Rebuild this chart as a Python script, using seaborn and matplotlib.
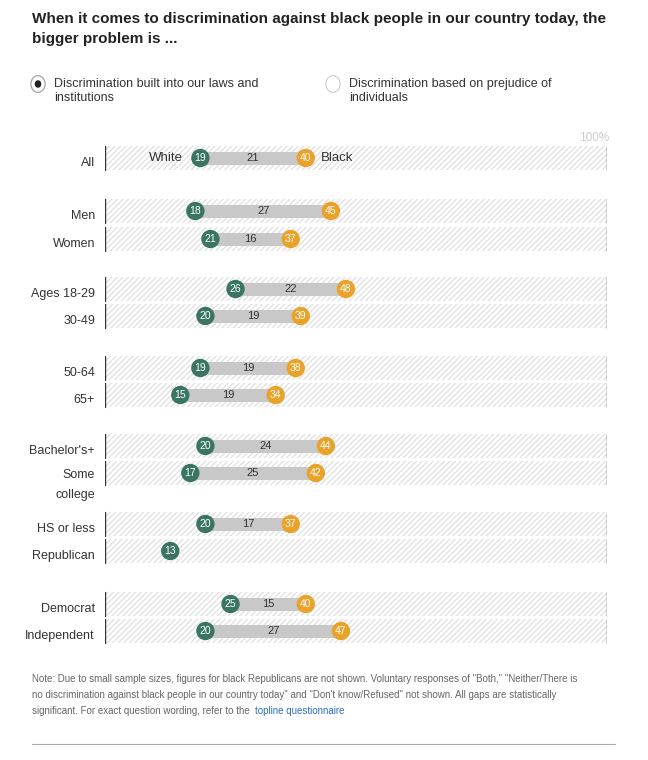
import matplotlib.pyplot as plt
import seaborn as sns
import pandas as pd

groups = ['All', 'Men', 'Women', 'Ages 18-29', '30-49', '50-64', '65+',
          "Bachelor's+", 'Some\ncollege', 'HS or less', 'Republican', 'Democrat', 'Independent']
row_y = [158, 211, 239, 289, 316, 368, 395, 446, 473, 524, 551, 604, 631]
white = [19, 18, 21, 26, 20, 19, 15, 20, 17, 20, 13, 25, 20]
black = [40, 45, 37, 48, 39, 38, 34, 44, 42, 37, None, 40, 47]

GREEN = '#3a7564'
ORANGE = '#e9a22a'

sns.set_style('white')
plt.rcParams['font.family'] = ['Liberation Sans', 'DejaVu Sans']
plt.rcParams['hatch.color'] = '#dcdcdc'
plt.rcParams['hatch.linewidth'] = 0.8

fig = plt.figure(figsize=(6.48, 7.6), dpi=100)
# axes spans pixel x 105..607, y 130..650
ax = fig.add_axes([105/648, 1-650/760, 502/648, 520/760])
ax.set_xlim(0, 100)
ax.set_ylim(650, 130)
ax.axis('off')

for g, y, w, b in zip(groups, row_y, white, black):
    ax.barh(y, 100, height=24, left=0, color='white', hatch='//////', edgecolor='#dcdcdc', linewidth=0)
    ax.plot([0, 0], [y-12, y+12], color='#333333', lw=1)
    ax.plot([100, 100], [y-12, y+12], color='#333333', lw=1)
    if '\n' in g:
        ax.text(-2, y-4, g, ha='right', va='top', fontsize=9, color='#333333', linespacing=1.9)
    else:
        ax.text(-2, y+5, g, ha='right', va='center', fontsize=9, color='#333333')
    if b is not None:
        ax.barh(y, b-w, height=13, left=w, color='#c8c8c8', linewidth=0)
        ax.text((w+b)/2, y, str(b-w), ha='center', va='center', fontsize=8, color='#333333')

df = pd.DataFrame({'y': row_y * 2, 'x': white + black,
                   'who': ['White'] * len(white) + ['Black'] * len(black)}).dropna()
sns.scatterplot(data=df, x='x', y='y', hue='who', palette={'White': GREEN, 'Black': ORANGE},
                s=175, linewidth=0, legend=False, ax=ax, zorder=5)
for x, y in zip(df['x'], df['y']):
    ax.text(x, y, str(int(x)), ha='center', va='center', fontsize=7.5, color='white', zorder=6)

ax.text(white[0] - 3.5, row_y[0], 'White', ha='right', va='center', fontsize=9.5, color='#333333')
ax.text(black[0] + 3, row_y[0], 'Black', ha='left', va='center', fontsize=9.5, color='#333333')
ax.text(100.5, 138, '100%', ha='right', va='center', fontsize=8.5, color='#cccccc')

fig.text(32/648, 1-12/760, 'When it comes to discrimination against black people in our country today, the\nbigger problem is ...',
         ha='left', va='top', fontsize=11, fontweight='bold', color='#222222', linespacing=1.5)
# legend
fig.patches.append(plt.Circle((38/648, 1-84/760), 0.011, transform=fig.transFigure,
                              facecolor='white', edgecolor='#999999', lw=0.8))
fig.patches.append(plt.Circle((38/648, 1-84/760), 0.004, transform=fig.transFigure, color='#222222'))
fig.text(54/648, 1-91/760, 'Discrimination built into our laws and\ninstitutions', fontsize=9,
         color='#333333', va='center', linespacing=1.3)
fig.patches.append(plt.Circle((333/648, 1-84/760), 0.011, transform=fig.transFigure,
                              facecolor='white', edgecolor='#cccccc', lw=0.8))
fig.text(349/648, 1-91/760, 'Discrimination based on prejudice of\nindividuals', fontsize=9,
         color='#333333', va='center', linespacing=1.3)

note_lines = ['Note: Due to small sample sizes, figures for black Republicans are not shown. Voluntary responses of "Both," "Neither/There is',
              'no discrimination against black people in our country today" and "Don\'t know/Refused" not shown. All gaps are statistically',
              'significant. For exact question wording, refer to the ']
for i, line in enumerate(note_lines):
    t = fig.text(32/648, 1-(682 + 16*i)/760, line, fontsize=7, color='#666666', va='baseline')
fig.canvas.draw()
bb = t.get_window_extent()
fig.text(bb.x1/648 + 2/648, 1-714/760, 'topline questionnaire', fontsize=7, color='#2a6ebb', va='baseline')
fig.add_artist(plt.Line2D([32/648, 615/648], [1-744/760, 1-744/760], color='#aaaaaa', lw=0.8))

fig.savefig('out.png', dpi=100, facecolor='white')
